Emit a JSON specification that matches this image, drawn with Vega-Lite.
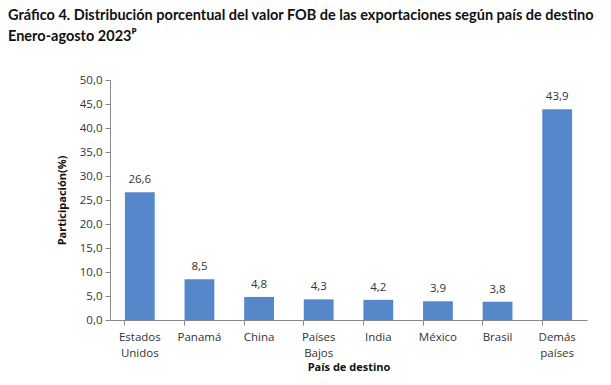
{
  "$schema": "https://vega.github.io/schema/vega-lite/v6.json",
  "width": 477,
  "height": 240,
  "autosize": {"type": "none"},
  "padding": {"left": 110, "top": 80, "right": 24, "bottom": 65},
  "background": "white",
  "title": {
    "text": ["Gráfico 4. Distribución porcentual del valor FOB de las exportaciones según país de destino", "Enero-agosto 2023ᴾ"],
    "anchor": "start",
    "frame": "group",
    "dx": -102,
    "offset": 30,
    "font": "Lato",
    "fontSize": 14.5,
    "fontWeight": "bold",
    "color": "#111111",
    "lineHeight": 21
  },
  "data": {
    "values": [
      {"pais": "Estados Unidos", "valor": 26.6},
      {"pais": "Panamá", "valor": 8.5},
      {"pais": "China", "valor": 4.8},
      {"pais": "Países Bajos", "valor": 4.3},
      {"pais": "India", "valor": 4.2},
      {"pais": "México", "valor": 3.9},
      {"pais": "Brasil", "valor": 3.8},
      {"pais": "Demás países", "valor": 43.9}
    ]
  },
  "config": {
    "view": {"stroke": null},
    "font": "Open Sans",
    "axis": {
      "domainColor": "#888888",
      "tickColor": "#888888",
      "labelColor": "#333333",
      "labelFont": "Open Sans",
      "labelFontSize": 11.5,
      "titleFont": "Open Sans",
      "titleFontSize": 11,
      "titleFontWeight": "bold",
      "titleColor": "#111111"
    }
  },
  "encoding": {
    "x": {
      "field": "pais",
      "type": "nominal",
      "sort": null,
      "scale": {"paddingInner": 0.5, "paddingOuter": 0.25},
      "axis": {
        "title": "País de destino",
        "labelAngle": 0,
        "labelExpr": "split(datum.label, ' ')",
        "labelPadding": 6,
        "labelLineHeight": 16,
        "bandPosition": 0,
        "tickSize": 5,
        "titlePadding": 3
      }
    },
    "y": {
      "field": "valor",
      "type": "quantitative",
      "scale": {"domain": [0, 50]},
      "axis": {
        "title": "Participación(%)",
        "values": [0, 5, 10, 15, 20, 25, 30, 35, 40, 45, 50],
        "labelExpr": "replace(format(datum.value, '.1f'), '.', ',')",
        "grid": false,
        "tickSize": 5,
        "labelPadding": 3,
        "titlePadding": 12
      }
    }
  },
  "layer": [
    {"mark": {"type": "bar", "color": "#5687CB"}},
    {
      "mark": {"type": "text", "dy": -12, "fontSize": 11.5, "color": "#333333", "font": "Open Sans"},
      "encoding": {
        "text": {"field": "label"}
      },
      "transform": [{"calculate": "replace(format(datum.valor, '.1f'), '.', ',')", "as": "label"}]
    }
  ]
}
